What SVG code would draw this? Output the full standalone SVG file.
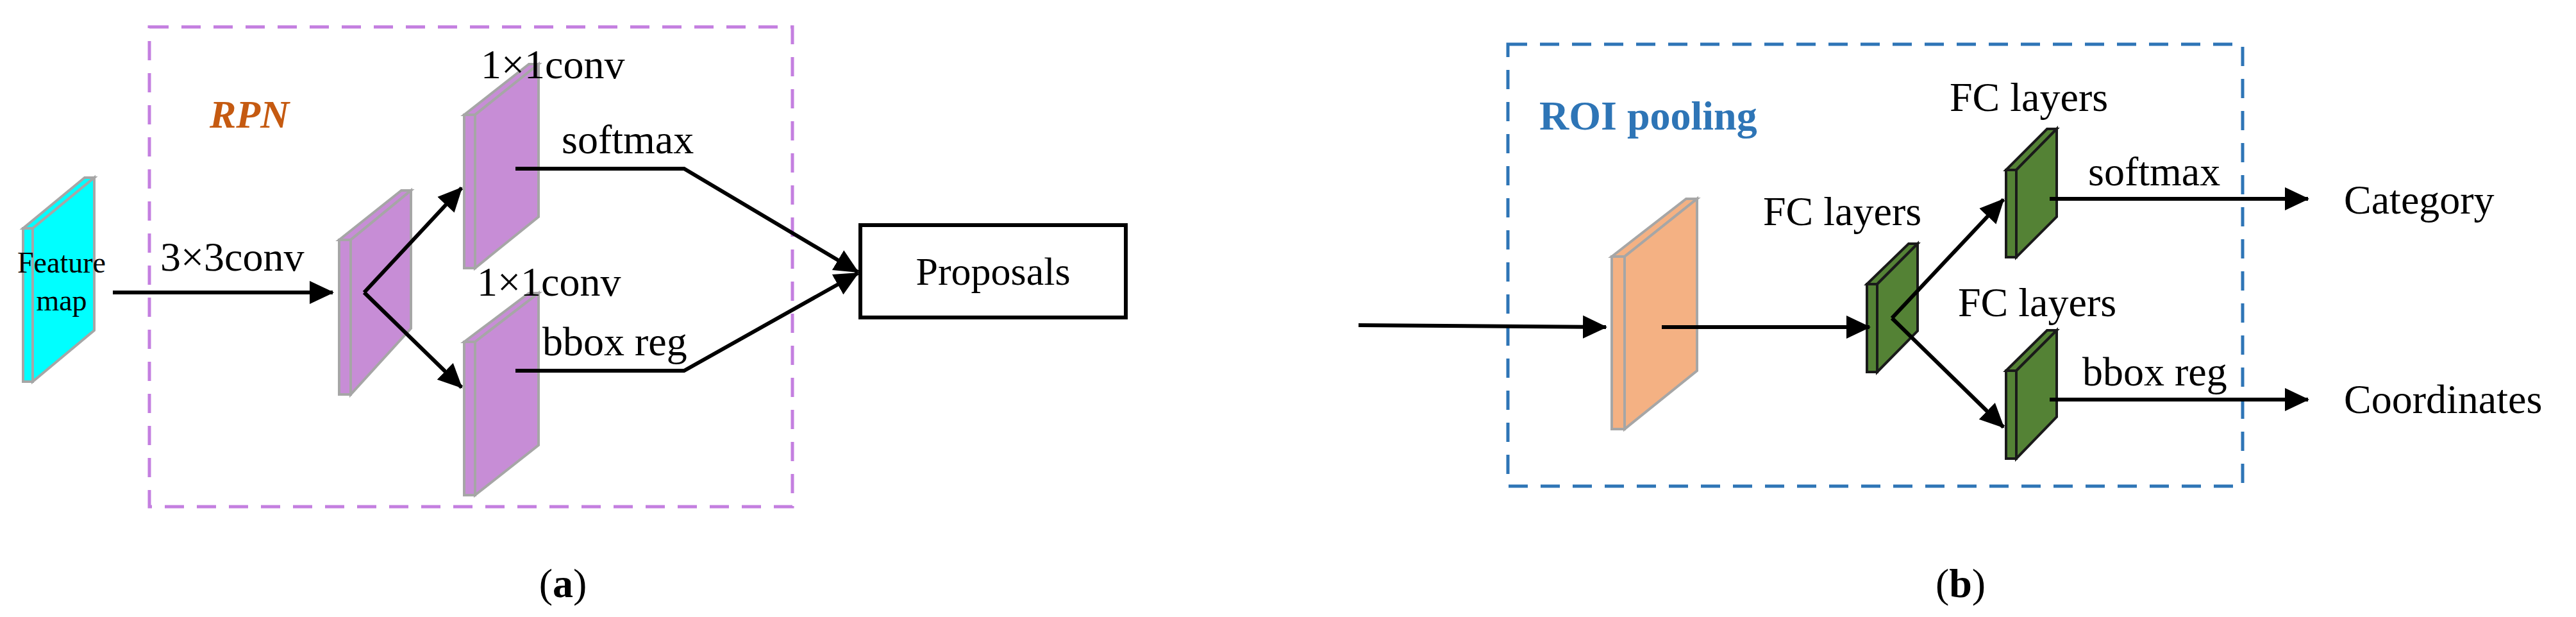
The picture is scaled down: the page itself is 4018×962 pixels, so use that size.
<svg xmlns="http://www.w3.org/2000/svg" width="4018" height="962" viewBox="0 0 4018 962">
<style>
text{font-family:"Liberation Serif","Times New Roman",serif;fill:#000}
.lbl{font-size:64px}
.ln{stroke:#000;stroke-width:6;fill:none}
.pl{stroke:#A6A6A6;stroke-width:4}
.gr{fill:#548235;stroke:#1a1a1a;stroke-width:4}
</style>
<defs>
<marker id="ah" markerUnits="userSpaceOnUse" markerWidth="40" markerHeight="40" refX="36" refY="18" orient="auto" viewBox="0 0 40 36">
<path d="M0,0 L38,18 L0,36 Z" fill="#000"/>
</marker>
</defs>
<rect x="233" y="42" width="1003" height="748" fill="none" stroke="#C47FE0" stroke-width="5" stroke-dasharray="30,20"/>
<rect x="2352" y="69" width="1146" height="689" fill="none" stroke="#2E75B6" stroke-width="5" stroke-dasharray="30,20"/>
<text x="327" y="199" font-size="62" font-style="italic" font-weight="bold" style="fill:#C55A11">RPN</text>
<text x="2401" y="202" font-size="64" font-weight="bold" style="fill:#2E75B6">ROI pooling</text>

<g id="featuremap">
<polygon class="pl" points="36,356 132,277 147,277 51,356" fill="#00FFFF"/>
<polygon class="pl" points="36,356 51,356 51,595 36,595" fill="#00FFFF"/>
<polygon class="pl" points="51,356 147,277 147,515 51,595" fill="#00FFFF"/>
<text x="96" y="425" font-size="46" text-anchor="middle">Feature</text>
<text x="96" y="484" font-size="46" text-anchor="middle">map</text>
</g>
<g id="conv3">
<polygon class="pl" points="529,374 626,297 641,297 547,374" fill="#C78DD6"/>
<polygon class="pl" points="529,374 547,374 547,615 529,615" fill="#C78DD6"/>
<polygon class="pl" points="547,374 641,297 641,512 547,615" fill="#C78DD6"/>
</g>
<g id="conv1a">
<polygon class="pl" points="724,179 825,100 840,100 741,179" fill="#C78DD6"/>
<polygon class="pl" points="724,179 741,179 741,418 724,418" fill="#C78DD6"/>
<polygon class="pl" points="741,179 840,100 840,338 741,418" fill="#C78DD6"/>
<text class="lbl" x="750" y="122">1×1conv</text>
</g>
<g id="conv1b">
<polygon class="pl" points="724,533 825,457 840,457 741,533" fill="#C78DD6"/>
<polygon class="pl" points="724,533 741,533 741,772 724,772" fill="#C78DD6"/>
<polygon class="pl" points="741,533 840,457 840,694 741,772" fill="#C78DD6"/>
<text class="lbl" x="744" y="461">1×1conv</text>
</g>
<g id="proposals">
<rect x="1342" y="351" width="414" height="144" fill="#fff" stroke="#000" stroke-width="6"/>
<text x="1549" y="444" font-size="62" text-anchor="middle">Proposals</text>
</g>

<g id="roi">
<polygon class="pl" points="2514,400 2630,310 2647,310 2534,400" fill="#F4B183"/>
<polygon class="pl" points="2514,400 2534,400 2534,669 2514,669" fill="#F4B183"/>
<polygon class="pl" points="2534,400 2647,310 2647,578 2534,669" fill="#F4B183"/>
</g>
<g id="fc1">
<polygon class="gr" points="2912,443 2977,380 2991,380 2928,443"/>
<polygon class="gr" points="2912,443 2928,443 2928,580 2912,580"/>
<polygon class="gr" points="2928,443 2991,380 2991,516 2928,580"/>
<text class="lbl" x="2750" y="351">FC layers</text>
</g>
<g id="fc2">
<polygon class="gr" points="3129,265 3193,201 3208,201 3145,265"/>
<polygon class="gr" points="3129,265 3145,265 3145,401 3129,401"/>
<polygon class="gr" points="3145,265 3208,201 3208,338 3145,401"/>
<text class="lbl" x="3041" y="173">FC layers</text>
</g>
<g id="fc3">
<polygon class="gr" points="3129,578 3193,515 3208,515 3145,578"/>
<polygon class="gr" points="3129,578 3145,578 3145,715 3129,715"/>
<polygon class="gr" points="3145,578 3208,515 3208,650 3145,715"/>
<text class="lbl" x="3054" y="493">FC layers</text>
</g>
<g id="category"><text class="lbl" x="3656" y="333">Category</text></g>
<g id="coordinates"><text class="lbl" x="3656" y="644">Coordinates</text></g>

<g id="connectors">
<line class="ln" x1="176" y1="456" x2="519" y2="456" marker-end="url(#ah)"/>
<text class="lbl" x="250" y="422">3×3conv</text>
<line class="ln" x1="568" y1="456" x2="720" y2="293" marker-end="url(#ah)"/>
<line class="ln" x1="568" y1="456" x2="720" y2="604" marker-end="url(#ah)"/>
<polyline class="ln" points="804,263 1067,263 1338,424" marker-end="url(#ah)"/>
<polyline class="ln" points="804,578 1067,578 1338,426" marker-end="url(#ah)"/>
<text class="lbl" x="876" y="239">softmax</text>
<text class="lbl" x="846" y="554">bbox reg</text>
<line class="ln" x1="2119" y1="507" x2="2505" y2="510" marker-end="url(#ah)"/>
<line class="ln" x1="2592" y1="510" x2="2916" y2="510" marker-end="url(#ah)"/>
<line class="ln" x1="2951" y1="496" x2="3125" y2="311" marker-end="url(#ah)"/>
<line class="ln" x1="2951" y1="496" x2="3125" y2="666" marker-end="url(#ah)"/>
<line class="ln" x1="3197" y1="310" x2="3600" y2="310" marker-end="url(#ah)"/>
<line class="ln" x1="3197" y1="623" x2="3600" y2="623" marker-end="url(#ah)"/>
<text class="lbl" x="3257" y="289">softmax</text>
<text class="lbl" x="3248" y="601">bbox reg</text>
</g>
<text x="878" y="931" font-size="64" text-anchor="middle">(<tspan font-weight="bold">a</tspan>)</text>
<text x="3058" y="931" font-size="64" text-anchor="middle">(<tspan font-weight="bold">b</tspan>)</text>
</svg>
